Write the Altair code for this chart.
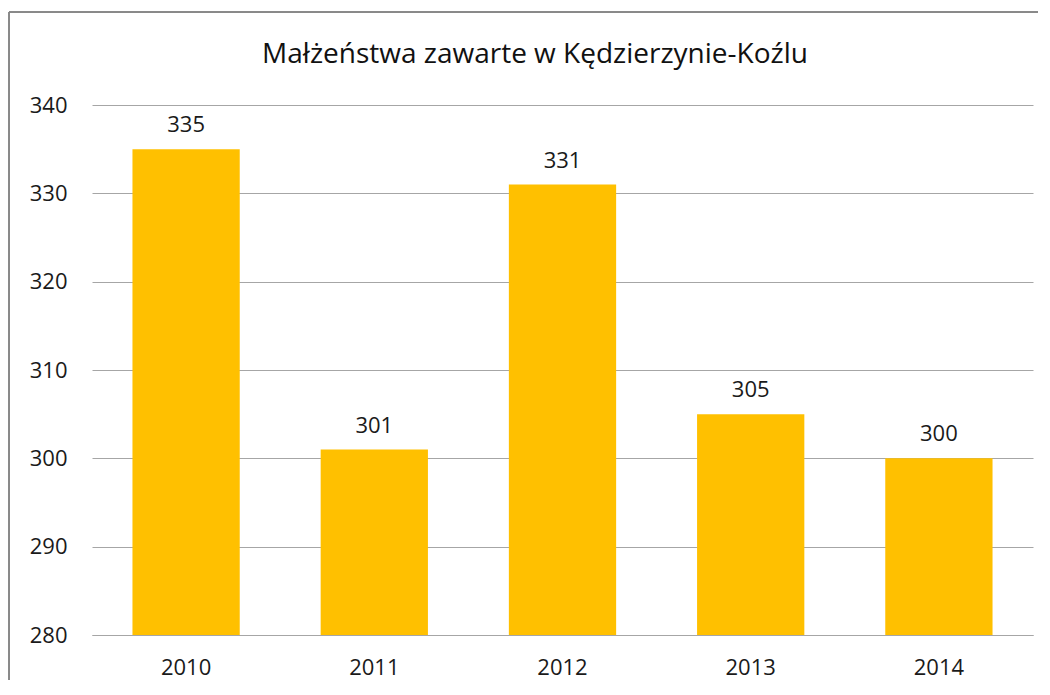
import altair as alt
import pandas as pd

years = ["2010", "2011", "2012", "2013", "2014"]
values = [335, 301, 331, 305, 300]
title_text = "Małżeństwa zawarte w Kędzierzynie-Koźlu"
y_ticks = [280, 290, 300, 310, 320, 330, 340]

df = pd.DataFrame({"year": years, "value": values})
title_df = pd.DataFrame({"t": [title_text]})

FONT = "Open Sans"
W, H = 941, 530

x_enc = alt.X("year:N", sort=years,
              scale=alt.Scale(paddingInner=0.43, paddingOuter=0.215),
              axis=alt.Axis(title=None, labelAngle=0, ticks=False, domain=True,
                            domainColor="#a6a6a6", labelPadding=22,
                            labelFontSize=22, labelFont=FONT, labelColor="#1a1a1a"))
y_enc = alt.Y("value:Q",
              scale=alt.Scale(domain=[280, 340], nice=False, zero=False),
              axis=alt.Axis(title=None, values=y_ticks, ticks=False, domain=False,
                            grid=True, gridColor="#a6a6a6", labelPadding=25,
                            labelFontSize=22, labelFont=FONT, labelColor="#1a1a1a"))

bars = alt.Chart(df).mark_bar(color="#FFC000", clip=True).encode(
    x=x_enc, y=y_enc, y2=alt.datum(280))

labels = alt.Chart(df).mark_text(dy=-24, fontSize=22, font=FONT, color="#1a1a1a").encode(
    x=alt.X("year:N", sort=years), y="value:Q", text="value:Q")

frame = alt.Chart(df).mark_rect(fill=None, stroke="#868686", strokeWidth=1).encode(
    x=alt.value(-83), x2=alt.value(W + 100), y=alt.value(-93), y2=alt.value(H + 100))

title = alt.Chart(title_df).mark_text(fontSize=28, font=FONT, color="#111111",
                                      baseline="middle", align="center").encode(
    x=alt.value(443), y=alt.value(-50), text="t:N")

chart = alt.layer(frame, bars, labels, title).properties(
    width=W, height=H,
    autosize=alt.AutoSizeParams(type="none"),
    padding={"left": 84, "top": 97, "right": 5, "bottom": 45},
).configure_view(stroke=None)

chart.save("out.html", embed_options={"renderer": "svg", "actions": False})
